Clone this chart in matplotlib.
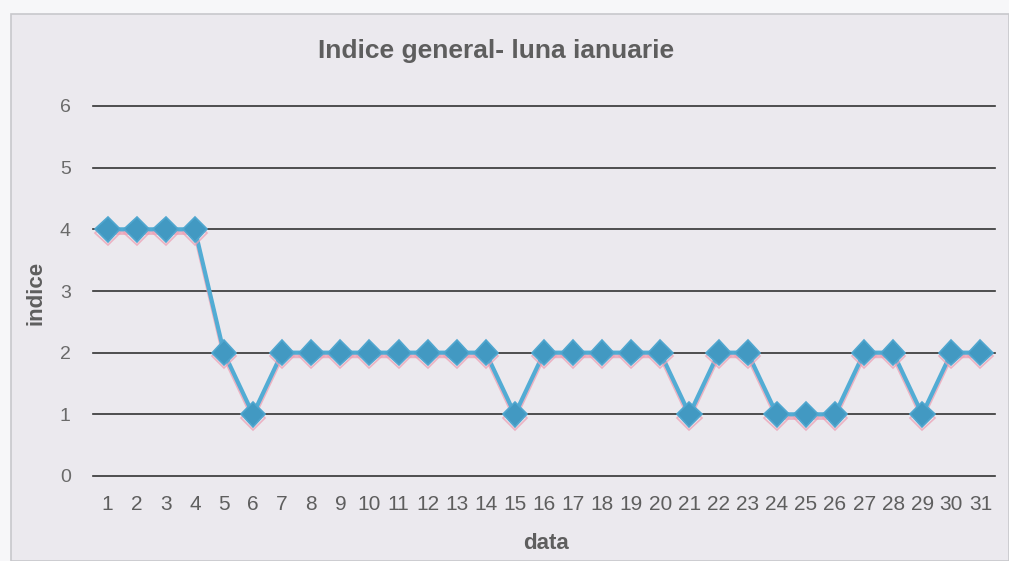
import matplotlib.pyplot as plt
import matplotlib.patheffects as pe
from matplotlib.patches import Rectangle

plt.rcParams["font.family"] = ["Liberation Sans", "DejaVu Sans"]

days = list(range(1, 32))
indice = [4, 4, 4, 4, 2, 1, 2, 2, 2, 2, 2, 2, 2, 2, 1,
          2, 2, 2, 2, 2, 1, 2, 2, 1, 1, 1, 2, 2, 1, 2, 2]
yticks = [0, 1, 2, 3, 4, 5, 6]

text_color = "#5e5e5e"

fig = plt.figure(figsize=(10.09, 5.61), dpi=100)
fig.patch.set_facecolor("#f7f7f9")

# chart area background with border, like the scanned Excel chart
fig.patches.append(Rectangle((11 / 1009, 0), 1 - 11 / 1009, 1 - 14 / 561,
                             transform=fig.transFigure, facecolor="#ebe9ee",
                             edgecolor="#c8c8cc", linewidth=1.2, zorder=-1))

ax = fig.add_axes([93 / 1009, 1 - 476 / 561, 902 / 1009, 370 / 561])
ax.set_facecolor("none")

ax.plot(days, indice, color="#52acd4", linewidth=3, marker="D", markersize=12.5,
        markerfacecolor="#4299c2", markeredgecolor="#4fa6cf", markeredgewidth=1.2, zorder=3,
        path_effects=[pe.SimpleLineShadow(offset=(0, -2.5), shadow_color="#eba0b4", alpha=0.75),
                      pe.Normal()])

ax.set_xlim(0.5, 31.5)
ax.set_ylim(0, 6)
ax.set_yticks(yticks)
ax.set_xticks(days)
ax.grid(axis="y", color="#333333", linewidth=1.2)
for gl in ax.get_ygridlines():
    gl.set_clip_on(False)
ax.set_axisbelow(True)
for s in ax.spines.values():
    s.set_visible(False)
ax.tick_params(length=0, labelsize=15, colors=text_color)
ax.tick_params(axis="x", pad=14)
ax.tick_params(axis="y", pad=16, labelsize=14, colors="#6a6a6a")

fig.text(496 / 1009, 1 - 58 / 561, "Indice general- luna ianuarie", ha="center", va="baseline",
         fontsize=19, fontweight="bold", color=text_color)
fig.text(36 / 1009, 1 - 293 / 561, "indice", ha="center", va="center", rotation=90,
         fontsize=16, fontweight="bold", color=text_color)
fig.text(546 / 1009, 1 - 549 / 561, "data", ha="center", va="baseline",
         fontsize=16, fontweight="bold", color=text_color)

fig.savefig("out.png", dpi=100)
